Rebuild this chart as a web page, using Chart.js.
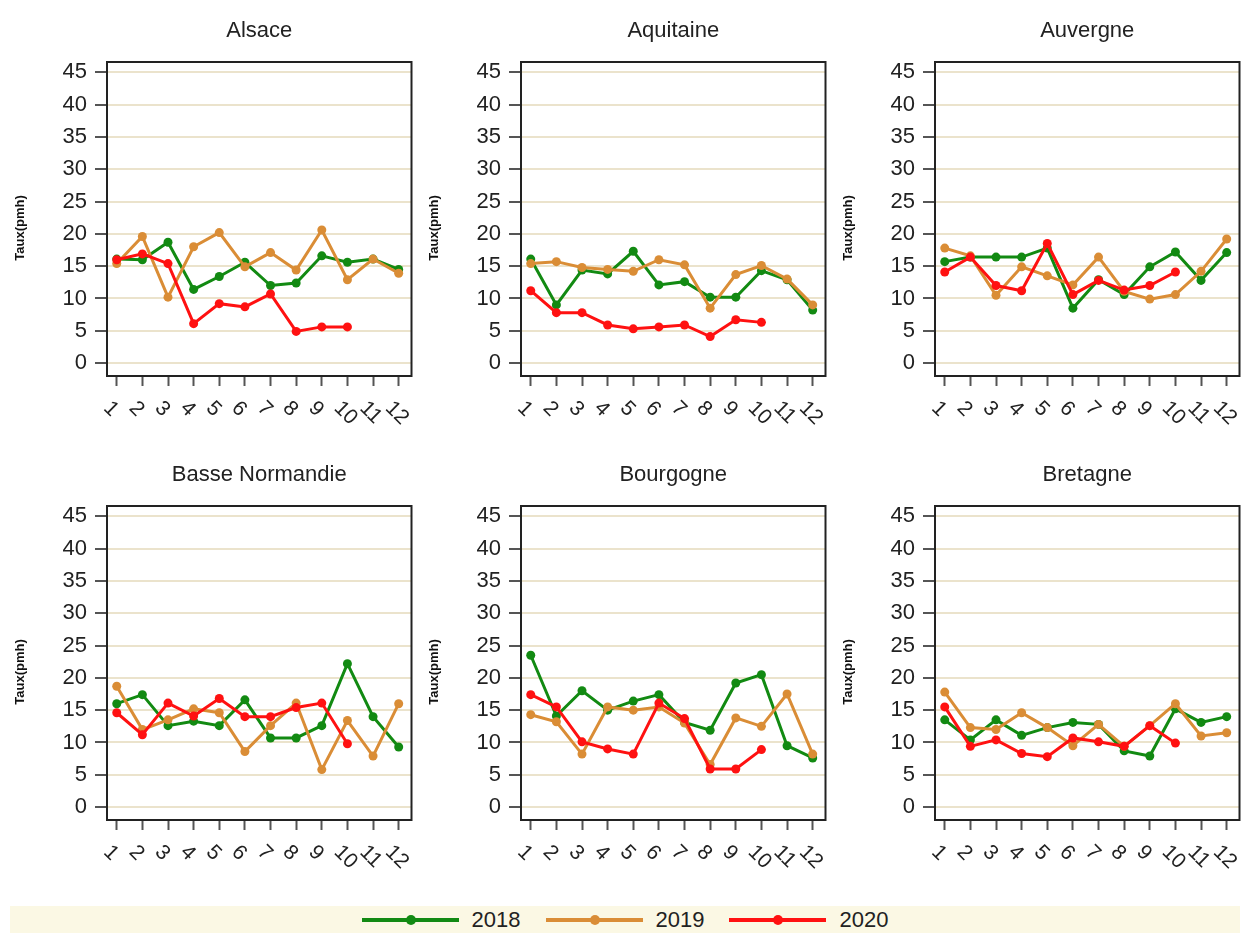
<!DOCTYPE html>
<html>
<head>
<meta charset="utf-8">
<script src="https://cdn.jsdelivr.net/npm/chart.js@4.4.1/dist/chart.umd.min.js"></script>
<style>
  body { margin: 0; background: #fff; width: 1244px; height: 933px; overflow: hidden; position: relative; }
  canvas { position: absolute; }
  #legend {
    position: absolute; left: 10px; top: 906px; width: 1230px; height: 27px;
    background: #fbf8e4; display: flex; justify-content: center; align-items: center;
    font: 22px "Liberation Sans", Arial, sans-serif; color: #222;
  }
  .item { display: flex; align-items: center; margin: 0 12.5px; }
  .swatch { position: relative; width: 97px; height: 4px; margin-right: 13px; }
  .swatch span { position: absolute; left: 44px; top: -3px; width: 10px; height: 10px; border-radius: 50%; }
</style>
</head>
<body>
<canvas id="c0" width="416" height="444" style="left:0;top:0"></canvas>
<canvas id="c1" width="416" height="444" style="left:414px;top:0"></canvas>
<canvas id="c2" width="416" height="444" style="left:828px;top:0"></canvas>
<canvas id="c3" width="416" height="444" style="left:0;top:444px"></canvas>
<canvas id="c4" width="416" height="444" style="left:414px;top:444px"></canvas>
<canvas id="c5" width="416" height="444" style="left:828px;top:444px"></canvas>
<div id="legend"></div>
<script>
const months = [1, 2, 3, 4, 5, 6, 7, 8, 9, 10, 11, 12];
const yTicks = [0, 5, 10, 15, 20, 25, 30, 35, 40, 45];
const years = ['2018', '2019', '2020'];
const yearColors = ['#128a12', '#da8d36', '#ff1111'];
const regions = ['Alsace', 'Aquitaine', 'Auvergne', 'Basse Normandie', 'Bourgogne', 'Bretagne'];

const alsace2018 = [16.1, 16.0, 18.7, 11.4, 13.4, 15.6, 12.0, 12.4, 16.6, 15.6, 16.1, 14.5];
const alsace2019 = [15.4, 19.6, 10.2, 18.0, 20.2, 14.9, 17.1, 14.4, 20.6, 12.9, 16.1, 13.9];
const alsace2020 = [16.0, 16.9, 15.4, 6.1, 9.2, 8.7, 10.7, 4.9, 5.6, 5.6];

const aquitaine2018 = [16.1, 9.0, 14.4, 13.8, 17.3, 12.1, 12.6, 10.2, 10.2, 14.3, 12.9, 8.2];
const aquitaine2019 = [15.4, 15.7, 14.8, 14.5, 14.2, 16.0, 15.2, 8.5, 13.7, 15.1, 13.0, 9.0];
const aquitaine2020 = [11.2, 7.8, 7.8, 5.9, 5.3, 5.6, 5.9, 4.1, 6.7, 6.3];

const auvergne2018 = [15.7, 16.4, 16.4, 16.4, 17.8, 8.5, 12.9, 10.6, 14.9, 17.2, 12.8, 17.1];
const auvergne2019 = [17.8, 16.6, 10.5, 14.9, 13.5, 12.1, 16.4, 11.1, 9.9, 10.6, 14.2, 19.2];
const auvergne2020 = [14.1, 16.4, 12.0, 11.2, 18.5, 10.6, 12.8, 11.3, 12.0, 14.1];

const basseNormandie2018 = [16.0, 17.4, 12.6, 13.3, 12.6, 16.6, 10.7, 10.7, 12.6, 22.2, 14.0, 9.3];
const basseNormandie2019 = [18.7, 12.0, 13.5, 15.2, 14.6, 8.6, 12.6, 16.1, 5.8, 13.4, 7.9, 16.0];
const basseNormandie2020 = [14.6, 11.2, 16.1, 14.1, 16.8, 14.0, 14.0, 15.4, 16.1, 9.8];

const bourgogne2018 = [23.5, 14.1, 18.0, 15.0, 16.4, 17.4, 13.1, 11.9, 19.2, 20.5, 9.5, 7.6];
const bourgogne2019 = [14.3, 13.2, 8.2, 15.5, 15.0, 15.5, 13.0, 6.6, 13.8, 12.5, 17.5, 8.2];
const bourgogne2020 = [17.4, 15.5, 10.1, 9.0, 8.2, 16.1, 13.7, 5.9, 5.9, 8.9];

const bretagne2018 = [13.5, 10.4, 13.5, 11.1, 12.3, 13.1, 12.8, 8.7, 7.9, 15.2, 13.1, 14.0];
const bretagne2019 = [17.8, 12.3, 12.0, 14.6, 12.3, 9.5, 12.8, 9.4, 12.6, 16.0, 11.0, 11.5];
const bretagne2020 = [15.5, 9.4, 10.4, 8.3, 7.8, 10.7, 10.1, 9.4, 12.6, 9.9];

const seriesByRegion = [
  [alsace2018, alsace2019, alsace2020],
  [aquitaine2018, aquitaine2019, aquitaine2020],
  [auvergne2018, auvergne2019, auvergne2020],
  [basseNormandie2018, basseNormandie2019, basseNormandie2020],
  [bourgogne2018, bourgogne2019, bourgogne2020],
  [bretagne2018, bretagne2019, bretagne2020]
];

const FONT = '"Liberation Sans", Arial, sans-serif';

// frame round the plot area, slanted month labels, y title
const panelDecor = {
  id: 'panelDecor',
  afterDraw(chart) {
    const { ctx, chartArea: a } = chart;
    const x = chart.scales.x;
    ctx.save();
    ctx.strokeStyle = '#222';
    ctx.lineWidth = 2;
    ctx.strokeRect(a.left, a.top, a.width, a.height);
    ctx.fillStyle = '#222';
    ctx.font = '21px ' + FONT;
    ctx.textAlign = 'left';
    ctx.textBaseline = 'middle';
    months.forEach(m => {
      ctx.save();
      ctx.translate(x.getPixelForValue(m) - 10, a.bottom + 29);
      ctx.rotate(Math.PI / 4);
      ctx.fillText(String(m), 0, 0);
      ctx.restore();
    });
    // axis title sits a little below the plot's middle in the original
    ctx.fillStyle = '#111';
    ctx.font = 'bold 13px ' + FONT;
    ctx.textAlign = 'center';
    ctx.translate(20, (a.top + a.bottom) / 2 + 9);
    ctx.rotate(-Math.PI / 2);
    ctx.fillText('Taux(pmh)', 0, 0);
    ctx.restore();
  }
};

function makePanel(idx) {
  const series = seriesByRegion[idx];
  new Chart(document.getElementById('c' + idx), {
    type: 'line',
    data: {
      datasets: series.map((vals, k) => ({
        label: years[k],
        data: vals.map((v, i) => ({ x: months[i], y: v })),
        borderColor: yearColors[k],
        backgroundColor: yearColors[k],
        borderWidth: 3,
        pointRadius: 4.5,
        pointBorderWidth: 0,
        tension: 0,
        order: 3 - k
      }))
    },
    options: {
      responsive: false,
      animation: false,
      layout: { padding: { right: 3 } },
      plugins: {
        legend: { display: false },
        tooltip: { enabled: false },
        title: {
          display: true,
          text: regions[idx],
          fullSize: false,
          color: '#222',
          font: { family: FONT, size: 22, weight: 'normal' },
          padding: { top: 18, bottom: 17.6 }
        }
      },
      scales: {
        x: {
          type: 'linear',
          min: 0.62,
          max: 12.5,
          afterBuildTicks: s => { s.ticks = months.map(v => ({ value: v })); },
          afterFit: s => { s.height = 68; },
          ticks: { display: false },
          grid: { drawOnChartArea: false, tickLength: 10, tickColor: '#555', tickWidth: 2 },
          border: { display: false }
        },
        y: {
          min: -2,
          max: 46.6,
          afterBuildTicks: s => { s.ticks = yTicks.map(v => ({ value: v })); },
          afterFit: s => { s.width = 107; },
          ticks: { color: '#222', font: { family: FONT, size: 22 }, padding: 8 },
          grid: { color: '#ebe3cc', lineWidth: 2, tickLength: 12, tickColor: '#555', tickWidth: 2 },
          border: { display: false }
        }
      }
    },
    plugins: [panelDecor]
  });
}

regions.forEach((r, i) => makePanel(i));

// legend band
const legend = document.getElementById('legend');
years.forEach((yr, k) => {
  const item = document.createElement('div');
  item.className = 'item';
  item.innerHTML = '<div class="swatch" style="background:' + yearColors[k] + '"><span style="background:' +
    yearColors[k] + '"></span></div><div>' + yr + '</div>';
  legend.appendChild(item);
});
</script>
</body>
</html>
